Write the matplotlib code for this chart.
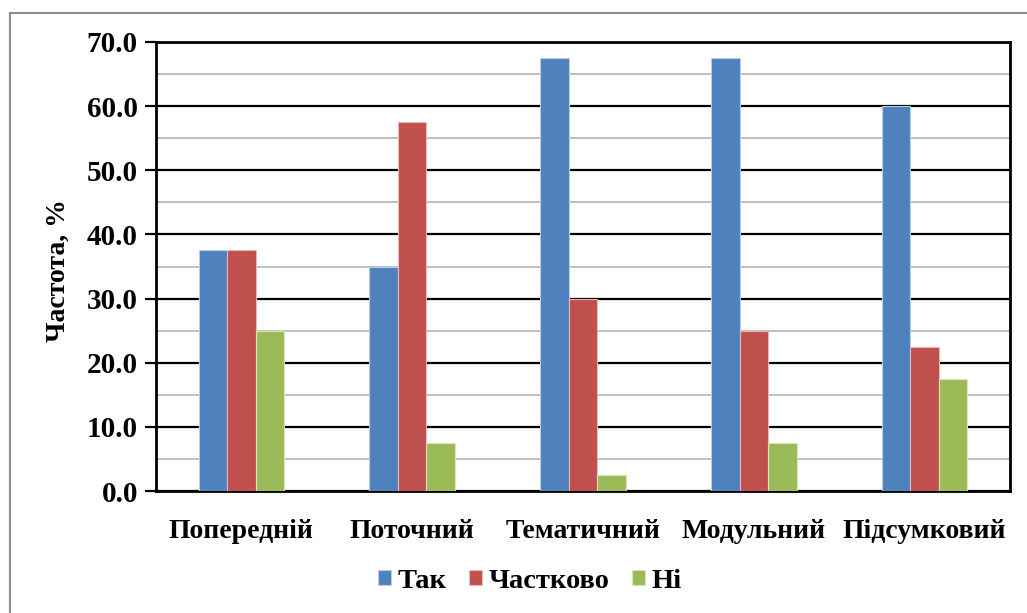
import numpy as np
import matplotlib
matplotlib.use("Agg")
import matplotlib.pyplot as plt
from matplotlib.patches import Rectangle
from matplotlib.ticker import MultipleLocator, FuncFormatter

categories = ["Попередній", "Поточний", "Тематичний", "Модульний", "Підсумковий"]
series_names = ["Так", "Частково", "Ні"]
tak = [37.5, 35.0, 67.5, 67.5, 60.0]
chastkovo = [37.5, 57.5, 30.0, 25.0, 22.5]
ni = [25.0, 7.5, 2.5, 7.5, 17.5]
colors = ["#4F81BD", "#C0504D", "#9BBB59"]
edge_colors = ["#B9CDE5", "#E6B9B8", "#D7E4BD"]

plt.rcParams["font.family"] = ["Liberation Serif", "DejaVu Serif"]
plt.rcParams["font.weight"] = "bold"

fig = plt.figure(figsize=(10.27, 6.13), dpi=100)
W, H = 1027, 613
ax = fig.add_axes([156 / W, 1 - 491 / H, (1010 - 156) / W, (491 - 42) / H])

# outer chart-area frame
fig.patches.append(Rectangle((9.5 / W, -0.1), 1.2, 1 - 13.5 / H + 0.1,
                             transform=fig.transFigure, fill=False,
                             edgecolor="#8C8C8C", linewidth=1.5, zorder=0))

x = np.arange(len(categories))
bw = 0.167
for i, (vals, c, ec, name) in enumerate(zip([tak, chastkovo, ni], colors, edge_colors, series_names)):
    ax.bar(x + (i - 1) * bw, vals, width=bw, color=c, edgecolor=ec, linewidth=0.8,
           label=name, zorder=3)

ax.set_xlim(-0.5, len(categories) - 0.5)
ax.set_ylim(0, 70)
ax.yaxis.set_major_locator(MultipleLocator(10))
ax.yaxis.set_minor_locator(MultipleLocator(5))
ax.grid(axis="y", which="major", color="black", linewidth=1.6, zorder=1)
ax.grid(axis="y", which="minor", color="#BFBFBF", linewidth=1.4, zorder=1)
ax.yaxis.set_major_formatter(FuncFormatter(lambda v, p: f"{v:.1f}"))
ax.tick_params(axis="y", which="major", length=8, width=1.6, labelsize=21, pad=5)
ax.tick_params(axis="y", which="minor", length=0)
ax.set_xticks(x)
ax.set_xticklabels(categories)
ax.tick_params(axis="x", length=0, labelsize=20, pad=20)
for s in ax.spines.values():
    s.set_linewidth(2)
    s.set_color("black")
ax.set_ylabel("Частота, %", fontsize=20, fontweight="bold")
ax.yaxis.set_label_coords(-0.100, 0.492)

leg = fig.legend(loc="center", bbox_to_anchor=(530 / W, 1 - 581 / H), ncol=3,
                 frameon=False, fontsize=20.5, handlelength=0.46, handleheight=0.46,
                 handletextpad=0.22, columnspacing=0.8)

fig.savefig("out.png", dpi=100)
